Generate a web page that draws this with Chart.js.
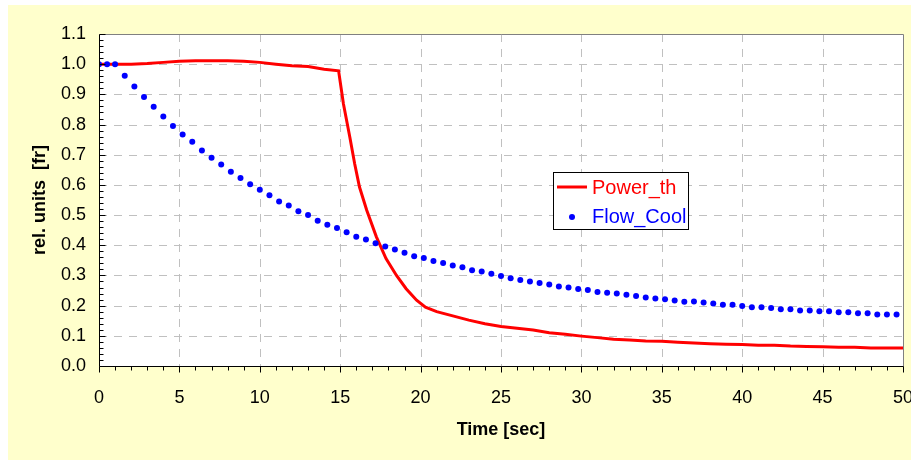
<!DOCTYPE html>
<html>
<head>
<meta charset="utf-8">
<script src="https://cdn.jsdelivr.net/npm/chart.js@4.4.1/dist/chart.umd.min.js"></script>
<style>
  html, body { margin: 0; padding: 0; background: #ffffff; }
  #wrap { width: 911px; height: 460px; position: relative; }
</style>
</head>
<body>
<div id="wrap"><canvas id="c" width="911" height="460"></canvas></div>
<script>
// ---------------- DATA ----------------
const seriesNames = ["Power_th", "Flow_Cool"];

const powerTime = [0, 1, 2, 3, 4, 5, 6, 7, 8, 9, 10, 11, 12, 13, 14, 14.9,
  15.2, 15.6, 15.9, 16.2, 16.65, 17.25, 17.85, 18.5, 19.1, 19.75, 20.3, 21,
  22, 23, 24, 25, 26, 27, 28, 29, 30, 31, 32, 33, 34, 35, 36, 37, 38, 39, 40,
  41, 42, 43, 44, 45, 46, 47, 48, 49, 50];
const powerValues = [1.000, 1.000, 1.000, 1.002, 1.006, 1.010, 1.011, 1.011, 1.011, 1.010, 1.006, 1.000, 0.995, 0.992, 0.983, 0.978,
  0.869, 0.758, 0.670, 0.593, 0.516, 0.428, 0.356, 0.300, 0.256, 0.218, 0.195, 0.180,
  0.166, 0.152, 0.140, 0.131, 0.125, 0.119, 0.110, 0.105, 0.099, 0.094, 0.089, 0.086, 0.083, 0.082, 0.079, 0.076, 0.074, 0.072, 0.071,
  0.069, 0.069, 0.066, 0.065, 0.064, 0.062, 0.062, 0.060, 0.060, 0.060];

const flowTime = [0, 0.5, 1.0, 1.6, 2.2, 2.8, 3.4, 4.0, 4.6, 5.2, 5.8, 6.4, 7.0, 7.6, 8.2, 8.8, 9.4,
  10.0, 10.6, 11.2, 11.8, 12.4, 13.0, 13.6, 14.2, 14.8, 15.4, 16.0, 16.6, 17.2, 17.8, 18.4, 19.0, 19.6,
  20.2, 20.8, 21.4, 22.0, 22.6, 23.2, 23.8, 24.4, 25.0, 25.6, 26.2, 26.8, 27.4, 28.0, 28.6, 29.2, 29.8,
  30.4, 31.0, 31.6, 32.2, 32.8, 33.4, 34.0, 34.6, 35.2, 35.8, 36.4, 37.0, 37.6, 38.2, 38.8, 39.4,
  40.0, 40.6, 41.2, 41.8, 42.4, 43.0, 43.6, 44.2, 44.8, 45.4, 46.0, 46.6, 47.2, 47.8, 48.4, 49.0, 49.6];
const flowValues = [1.000, 1.000, 1.000, 0.962, 0.926, 0.891, 0.859, 0.827, 0.795, 0.767, 0.743, 0.714, 0.690, 0.668, 0.644, 0.623, 0.602,
  0.584, 0.566, 0.545, 0.532, 0.513, 0.500, 0.481, 0.468, 0.457, 0.443, 0.428, 0.419, 0.407, 0.396, 0.386, 0.375, 0.364,
  0.358, 0.348, 0.341, 0.333, 0.327, 0.317, 0.313, 0.306, 0.298, 0.291, 0.285, 0.280, 0.275, 0.270, 0.263, 0.260, 0.255,
  0.252, 0.245, 0.243, 0.240, 0.236, 0.232, 0.227, 0.224, 0.221, 0.217, 0.213, 0.214, 0.210, 0.207, 0.203, 0.203,
  0.199, 0.195, 0.195, 0.192, 0.188, 0.188, 0.184, 0.184, 0.181, 0.181, 0.178, 0.178, 0.175, 0.175, 0.171, 0.171, 0.171];

const xTickValues = [0, 5, 10, 15, 20, 25, 30, 35, 40, 45, 50];
const yTickValues = [0.0, 0.1, 0.2, 0.3, 0.4, 0.5, 0.6, 0.7, 0.8, 0.9, 1.0, 1.1];
const xAxisTitle = "Time [sec]";
const yAxisTitle = "rel. units  [fr]";

// ---------------- STYLE ----------------
const FONT = "'Liberation Sans', Arial, sans-serif";
const RED = "#FF0000";
const BLUE = "#0000FF";

const toPoints = (xs, ys) => xs.map((x, i) => ({x: x, y: ys[i]}));

const decorPlugin = {
  id: 'decor',
  beforeDraw(chart) {
    const ctx = chart.ctx;
    const a = chart.chartArea;
    ctx.save();
    ctx.fillStyle = "#FFFFCC";
    ctx.fillRect(8, 5, chart.width - 8, chart.height - 5);
    ctx.fillStyle = "#FFFFFF";
    ctx.fillRect(a.left, a.top, a.right - a.left, a.bottom - a.top);
    // grid
    const xs = chart.scales.x, ys = chart.scales.y;
    ctx.strokeStyle = "#C0C0C0";
    ctx.lineWidth = 1;
    ctx.setLineDash([8, 7]);
    xTickValues.forEach(v => {
      if (v <= xs.min || v >= xs.max) return;
      const px = Math.round(xs.getPixelForValue(v)) + 0.5;
      ctx.beginPath(); ctx.moveTo(px, a.top); ctx.lineTo(px, a.bottom); ctx.stroke();
    });
    yTickValues.forEach(v => {
      if (v <= ys.min || v >= ys.max) return;
      const py = Math.round(ys.getPixelForValue(v)) + 0.5;
      ctx.beginPath(); ctx.moveTo(a.left, py); ctx.lineTo(a.right, py); ctx.stroke();
    });
    ctx.setLineDash([]);
    ctx.restore();
  },
  afterDatasetsDraw(chart) {
    const ctx = chart.ctx;
    const a = chart.chartArea;
    const xs = chart.scales.x, ys = chart.scales.y;
    const L = Math.round(a.left) + 0.5, R = Math.round(a.right) + 0.5;
    const T = Math.round(a.top) + 0.5, B = Math.round(a.bottom) + 0.5;
    ctx.save();
    ctx.lineWidth = 1;
    // frame: top/right gray
    ctx.strokeStyle = "#808080";
    ctx.beginPath(); ctx.moveTo(L, T); ctx.lineTo(R, T); ctx.lineTo(R, B); ctx.stroke();
    // axes black
    ctx.strokeStyle = "#000000";
    ctx.beginPath(); ctx.moveTo(L, T); ctx.lineTo(L, B); ctx.lineTo(R, B); ctx.stroke();
    // x ticks (outside, downward)
    for (let v = xs.min; v <= xs.max + 1e-9; v += 1) {
      const px = Math.round(xs.getPixelForValue(v)) + 0.5;
      const major = Math.abs(v % 5) < 1e-9;
      ctx.beginPath(); ctx.moveTo(px, B); ctx.lineTo(px, B + (major ? 6 : 4)); ctx.stroke();
    }
    // y ticks (inside, rightward)
    for (let i = 0; i <= 55; i++) {
      const v = i * 0.02;
      const py = Math.round(ys.getPixelForValue(v)) + 0.5;
      const major = i % 5 === 0;
      ctx.beginPath(); ctx.moveTo(L, py); ctx.lineTo(L + (major ? 6 : 4), py); ctx.stroke();
    }
    // legend
    const lx = 553, ly = 172, lw = 135, lh = 57;
    ctx.fillStyle = "#FFFFFF";
    ctx.fillRect(lx, ly, lw, lh);
    ctx.strokeStyle = "#000000";
    ctx.strokeRect(lx + 0.5, ly + 0.5, lw, lh);
    const ds = chart.data.datasets;
    ctx.font = "20px " + FONT;
    ctx.textBaseline = "middle";
    ctx.textAlign = "left";
    // row 1: line
    ctx.strokeStyle = ds[1].borderColor;
    ctx.lineWidth = 3;
    ctx.beginPath(); ctx.moveTo(557, 187); ctx.lineTo(587, 187); ctx.stroke();
    ctx.fillStyle = ds[1].borderColor;
    ctx.fillText(ds[1].label, 592, 188);
    // row 2: dot
    ctx.fillStyle = ds[0].backgroundColor;
    ctx.beginPath(); ctx.arc(572, 217, 3, 0, Math.PI * 2); ctx.fill();
    ctx.fillText(ds[0].label, 592, 217);
    ctx.restore();
  }
};

new Chart(document.getElementById('c'), {
  type: 'line',
  data: {
    datasets: [
      {
        label: seriesNames[1],
        data: toPoints(flowTime, flowValues),
        showLine: false,
        pointRadius: 3,
        pointBackgroundColor: BLUE,
        backgroundColor: BLUE,
        borderColor: BLUE,
        pointBorderWidth: 0,
        order: 0
      },
      {
        label: seriesNames[0],
        data: toPoints(powerTime, powerValues),
        borderColor: RED,
        backgroundColor: RED,
        borderWidth: 3,
        pointRadius: 0,
        tension: 0,
        fill: false,
        order: 1
      }
    ]
  },
  options: {
    responsive: false,
    animation: false,
    events: [],
    layout: { padding: { top: 34, right: 8, left: 0, bottom: 0 } },
    plugins: { legend: { display: false }, tooltip: { enabled: false }, title: { display: false } },
    scales: {
      x: {
        type: 'linear',
        min: 0, max: 50,
        afterFit: s => { s.height = 94; s.paddingLeft = 0; s.paddingRight = 0; },
        afterBuildTicks: s => { s.ticks = xTickValues.map(v => ({value: v})); },
        ticks: { font: { family: FONT, size: 18 }, color: "#000", padding: 21, maxRotation: 0,
                 callback: v => String(v) },
        grid: { display: false, drawTicks: false },
        border: { display: false },
        title: { display: true, text: xAxisTitle, color: "#000",
                 font: { family: FONT, size: 18, weight: 'bold' }, padding: { bottom: 19 } }
      },
      y: {
        type: 'linear',
        min: 0, max: 1.1,
        afterFit: s => { s.width = 99; s.paddingTop = 0; s.paddingBottom = 0; },
        afterBuildTicks: s => { s.ticks = yTickValues.map(v => ({value: v})); },
        ticks: { font: { family: FONT, size: 18 }, color: "#000", padding: 13,
                 callback: v => Number(v).toFixed(1) },
        grid: { display: false, drawTicks: false },
        border: { display: false },
        title: { display: true, text: yAxisTitle, color: "#000",
                 font: { family: FONT, size: 18, weight: 'bold' }, padding: { top: 29 } }
      }
    }
  },
  plugins: [decorPlugin]
});
</script>
</body>
</html>
